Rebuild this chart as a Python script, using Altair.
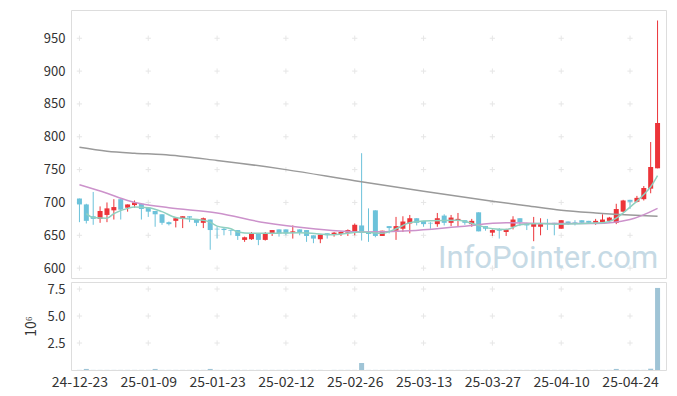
import altair as alt
import pandas as pd
import numpy as np

tick_index = [0, 10, 20, 30, 40, 50, 60, 70, 80]
tick_labels = ["24-12-23", "25-01-09", "25-01-23", "25-02-12", "25-02-26",
               "25-03-13", "25-03-27", "25-04-10", "25-04-24"]
price_ticks = [600, 650, 700, 750, 800, 850, 900, 950]
vol_ticks = [2.5, 5.0, 7.5]

open_ = [706, 697, 679, 675, 681, 688, 705, 692, 696, 698,
         692, 687, 682, 670, 672, 675, 679, 674, 669, 674,
         660, 660, 658, 658, 643, 644, 653, 643, 653, 659,
         659, 654, 659, 658, 650, 644, 653, 651, 652, 654,
         655, 665, 655, 688, 649, 664, 657, 660, 668, 676,
         672, 669, 667, 680, 669, 672, 673, 667, 685, 664,
         654, 659, 655, 663, 676, 668, 663, 663, 668, 669,
         660, 671, 670, 673, 672, 669, 670, 672, 669, 686,
         704, 701, 705, 721, 752]
high = [706, 698, 716, 694, 700, 705, 705, 697, 703, 699,
        692, 687, 682, 671, 677, 679, 679, 674, 677, 674,
        663, 661, 658, 658, 648, 655, 653, 655, 658, 659,
        659, 665, 659, 658, 650, 651, 653, 655, 656, 659,
        668, 775, 691, 688, 657, 664, 678, 679, 681, 676,
        672, 670, 684, 682, 681, 684, 673, 675, 685, 664,
        659, 661, 660, 679, 676, 669, 678, 676, 675, 669,
        673, 671, 673, 673, 672, 675, 682, 678, 698, 704,
        704, 710, 725, 792, 977]
low = [670, 668, 666, 669, 670, 674, 674, 686, 692, 674,
       678, 663, 666, 665, 662, 661, 670, 664, 661, 628,
       645, 650, 650, 643, 640, 643, 635, 642, 649, 648,
       650, 645, 650, 640, 638, 638, 645, 648, 649, 649,
       650, 642, 640, 647, 649, 653, 643, 655, 653, 665,
       663, 660, 663, 665, 664, 663, 666, 663, 656, 657,
       649, 645, 649, 659, 664, 658, 641, 650, 658, 650,
       660, 666, 665, 668, 668, 666, 669, 670, 667, 685,
       690, 700, 703, 714, 752]
close = [697, 672, 675, 687, 691, 693, 689, 697, 700, 690,
         686, 682, 669, 667, 676, 679, 677, 669, 676, 658,
         659, 658, 657, 649, 647, 653, 643, 653, 658, 653,
         653, 656, 655, 649, 645, 651, 650, 654, 655, 658,
         666, 654, 652, 649, 657, 661, 664, 671, 676, 669,
         667, 668, 676, 669, 677, 675, 669, 672, 656, 660,
         658, 657, 659, 674, 670, 665, 668, 667, 667, 667,
         673, 667, 669, 669, 669, 672, 674, 677, 690, 703,
         701, 707, 722, 754, 821]
volume_m = [0.01, 0.10, 0.01, 0.01, 0.01, 0.01, 0.01, 0.01, 0.01, 0.01,
            0.01, 0.10, 0.01, 0.01, 0.01, 0.01, 0.01, 0.01, 0.01, 0.10,
            0.01, 0.01, 0.01, 0.01, 0.01, 0.01, 0.01, 0.01, 0.01, 0.01,
            0.01, 0.01, 0.01, 0.01, 0.01, 0.01, 0.01, 0.01, 0.01, 0.01,
            0.01, 0.65, 0.01, 0.01, 0.01, 0.01, 0.01, 0.01, 0.01, 0.01,
            0.01, 0.01, 0.01, 0.01, 0.01, 0.01, 0.01, 0.01, 0.01, 0.01,
            0.01, 0.01, 0.01, 0.01, 0.01, 0.01, 0.01, 0.01, 0.01, 0.01,
            0.01, 0.01, 0.01, 0.01, 0.01, 0.01, 0.01, 0.01, 0.10, 0.01,
            0.01, 0.01, 0.01, 0.12, 7.60]

ma_long_idx = [0, 4, 8, 12, 20, 30, 40, 50, 60, 65, 70, 75, 80, 84]
ma_long_val = [784, 778, 775, 773, 764, 750, 733, 717, 702, 695, 688, 684, 681, 679]

ma_mid_idx = [0, 4, 7, 9, 13, 20, 27, 34, 41, 48, 55, 62, 69, 75, 80, 84]
ma_mid_val = [727, 714, 703, 698, 692, 684, 669, 660, 655, 657, 663, 669, 668, 668, 674, 691]

ma_short_idx = [1, 2, 4, 5, 7, 8, 10, 12, 14, 18, 19, 20, 22, 23, 25, 27, 32, 37,
                41, 44, 46, 48, 51, 55, 58, 60, 62, 64, 67, 69, 76, 78, 79, 80,
                81, 82, 83, 84]
ma_short_val = [683, 677, 676, 683, 691, 693, 692, 686, 677, 673, 670, 664, 660, 655,
                653, 653, 654, 651, 655, 653, 660, 669, 672, 673, 665, 660, 659, 666,
                668, 667, 669, 676, 684, 693, 702, 712, 724, 741]

FONT = "Noto Sans CJK KR"
UP, DOWN = "#ec3439", "#6cc2da"
W, H_P, H_V = 595, 268, 88
CROSS = "#e6e6e6"

df = pd.DataFrame({"i": list(range(len(open_))), "open": open_, "high": high,
                   "low": low, "close": close, "vol": volume_m})
df["dir"] = np.where(df["close"] >= df["open"], "up", "down")

xs = alt.Scale(domain=[-0.5, len(open_) - 0.5], nice=False, zero=False)
color = alt.Color("dir:N", scale=alt.Scale(domain=["up", "down"], range=[UP, DOWN]), legend=None)
ys = alt.Scale(domain=[585, 993], nice=False, zero=False)
y_axis = alt.Axis(values=price_ticks, grid=False, domain=False, ticks=False, labelOverlap=False,
                  labelPadding=6, labelFontSize=13, labelColor="#333", labelFont=FONT, title=None)


def py(field):
    return alt.Y(field, scale=ys, axis=y_axis)


def px(field="i:Q"):
    return alt.X(field, scale=xs, axis=None)


cross_shape = "M-1,0L1,0M0,-1L0,1"
grid_p = pd.DataFrame([(a, b) for a in tick_index for b in price_ticks], columns=["i", "v"])
grid_v = pd.DataFrame([(a, b) for a in tick_index for b in vol_ticks], columns=["i", "v"])

crosses_p = alt.Chart(grid_p).mark_point(shape=cross_shape, size=28, filled=False,
                                         color=CROSS, strokeWidth=1, opacity=1).encode(
    x=px(), y=py("v:Q"))

wm = alt.Chart(pd.DataFrame({"t": ["InfoPointer.com"]})).mark_text(
    font="Roboto", fontSize=31, color="#c6dae5", align="left",
    baseline="alphabetic").encode(x=alt.value(367), y=alt.value(258), text="t:N")

base = alt.Chart(df)
wicks = base.mark_rule(strokeWidth=1).encode(x=px(), y=py("low:Q"), y2="high:Q", color=color)
bodies = base.mark_bar(size=5).encode(x=px(), y=py("open:Q"), y2="close:Q", color=color)


def ma_line(idx, val, col):
    d = pd.DataFrame({"i": idx, "v": val})
    return alt.Chart(d).mark_line(color=col, strokeWidth=1.5, interpolate="monotone").encode(
        x=px(), y=py("v:Q"))


price = alt.layer(
    crosses_p, wm, wicks, bodies,
    ma_line(ma_long_idx, ma_long_val, "#9a9a9a"),
    ma_line(ma_mid_idx, ma_mid_val, "#cc92cb"),
    ma_line(ma_short_idx, ma_short_val, "#8fd0c0"),
).properties(width=W, height=H_P)

label_expr = "[" + ",".join("'%s'" % s for s in tick_labels) + "][round(datum.value / 10)]"
x_axis = alt.Axis(values=tick_index, labelExpr=label_expr, grid=False, domain=False, ticks=False,
                  labelOverlap=False, labelPadding=5, labelFontSize=14, labelColor="#333",
                  labelFont=FONT, title=None)
vs = alt.Scale(domain=[0, 8.15], nice=False)
v_axis = alt.Axis(values=vol_ticks, format=".1f", grid=False, domain=False, ticks=False,
                  labelOverlap=False, labelPadding=6, labelFontSize=13, labelColor="#333",
                  labelFont=FONT, title="10⁶", titleFont=FONT, titleFontSize=14,
                  titleFontWeight="normal", titleColor="#333", titlePadding=8)

crosses_v = alt.Chart(grid_v).mark_point(shape=cross_shape, size=28, filled=False,
                                         color=CROSS, strokeWidth=1, opacity=1).encode(
    x=alt.X("i:Q", scale=xs, axis=x_axis), y=alt.Y("v:Q", scale=vs, axis=v_axis))
vbars = base.mark_bar(size=5, color="#9fc4d6").encode(
    x=alt.X("i:Q", scale=xs, axis=x_axis), y=alt.Y("vol:Q", scale=vs, axis=v_axis))

volume = alt.layer(crosses_v, vbars).properties(width=W, height=H_V)

chart = alt.vconcat(price, volume, spacing=2).properties(
    padding={"left": 16, "top": 1, "right": 0, "bottom": 0}
).configure_view(stroke="#e2e2e2").configure(background="white")

chart.save("out.html", embed_options={"renderer": "svg", "actions": False})
